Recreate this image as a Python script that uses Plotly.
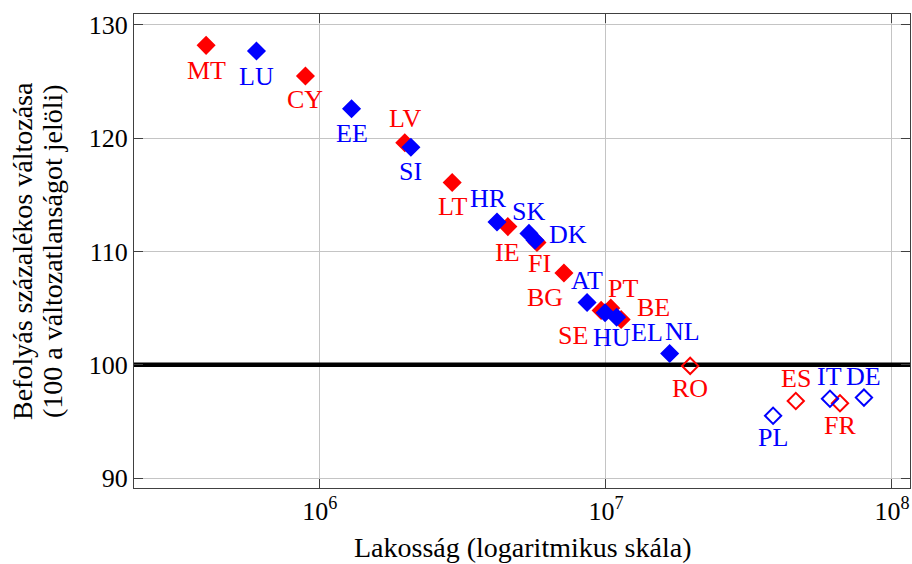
import math
import plotly.graph_objects as go

# ---- data ----
red_codes = ["MT", "CY", "LV", "LT", "IE", "FI", "BG", "SE", "PT", "BE", "RO", "ES", "FR"]
red_pop = [4.0e5, 8.9e5, 1.98e6, 2.90e6, 4.54e6, 5.74e6, 7.13e6, 9.62e6, 1.04e7, 1.13e7, 1.97e7, 4.61e7, 6.58e7]
red_val = [128.2, 125.5, 119.6, 116.1, 112.2, 110.8, 108.1, 104.8, 105.0, 104.0, 99.9, 96.8, 96.6]

blue_codes = ["LU", "EE", "SI", "HR", "SK", "DK", "AT", "HU", "EL", "NL", "PL", "IT", "DE"]
blue_pop = [6.0e5, 1.29e6, 2.08e6, 4.16e6, 5.38e6, 5.65e6, 8.59e6, 9.93e6, 1.09e7, 1.67e7, 3.84e7, 6.07e7, 7.98e7]
blue_val = [127.7, 122.6, 119.2, 112.6, 111.6, 111.0, 105.5, 104.6, 104.2, 101.0, 95.5, 97.0, 97.1]

reference_value = 100
x_tickvals = [1e6, 1e7, 1e8]
x_ticktext = ["10<sup>6</sup>", "10<sup>7</sup>", "10<sup>8</sup>"]
y_tickvals = [90, 100, 110, 120, 130]

x_title = "Lakosság (logaritmikus skála)"
y_title_lines = ["Befolyás százalékos változása", "(100 a változatlanságot jelöli)"]

# ---- styles ----
FONT = "Liberation Serif"
FS = 26
FS_TITLE = 28
RED = "#ff0000"
BLUE = "#0000ff"
X_RANGE_LOG = [5.350, 8.063]
Y_RANGE = [89.12, 130.97]

# label offsets in pixels (xshift, yshift), relative to each marker
label_offsets = {
    "MT": (0, -25), "LU": (0, -25), "CY": (0, -24), "EE": (0, -25),
    "LV": (0, 24), "SI": (0, -24), "LT": (0, -24), "HR": (-9, 24),
    "IE": (0, -26), "SK": (0, 22), "DK": (33, 6), "FI": (3, -21),
    "BG": (-19, -24), "AT": (0, 22), "SE": (-28, -25), "HU": (7, -25),
    "PT": (12, 20), "EL": (30, -15), "BE": (32, 12), "NL": (13, 22),
    "RO": (0, -23), "PL": (0, -22), "ES": (0, 23), "IT": (0, 22),
    "FR": (0, -22), "DE": (0, 21),
}

fig = go.Figure()

# thick reference line across the whole plot, drawn beneath the markers
fig.add_trace(go.Scatter(
    x=[10 ** X_RANGE_LOG[0], 10 ** X_RANGE_LOG[1]],
    y=[reference_value, reference_value],
    mode="lines", line=dict(color="black", width=4.5),
    hoverinfo="skip", showlegend=False, cliponaxis=False,
))


def add_series(codes, pop, val, color):
    symbols = ["diamond" if v >= reference_value else "diamond-open" for v in val]
    fig.add_trace(go.Scatter(
        x=pop, y=val, mode="markers",
        marker=dict(symbol=symbols, size=12.5, color=color,
                    line=dict(color=color, width=2)),
        hoverinfo="text", text=codes, showlegend=False,
    ))
    for c, p, v in zip(codes, pop, val):
        dx, dy = label_offsets[c]
        fig.add_annotation(
            x=math.log10(p), y=v, xref="x", yref="y", text=c,
            showarrow=False, xanchor="center", yanchor="middle",
            xshift=dx, yshift=dy,
            font=dict(family=FONT, size=FS, color=color),
        )


add_series(red_codes, red_pop, red_val, RED)
add_series(blue_codes, blue_pop, blue_val, BLUE)

axis_common = dict(
    showgrid=True, gridcolor="#c4c4c4", gridwidth=1,
    showline=True, linecolor="#404040", linewidth=1, mirror="ticks",
    ticks="inside", ticklen=9, tickcolor="#404040", tickwidth=1,
    zeroline=False, automargin=False,
    tickfont=dict(family=FONT, size=FS, color="black"),
)

fig.update_xaxes(
    type="log", range=X_RANGE_LOG,
    tickvals=x_tickvals, ticktext=x_ticktext,
    **axis_common,
)
fig.update_yaxes(
    range=Y_RANGE, tickvals=y_tickvals,
    **axis_common,
)

# axis titles
fig.add_annotation(
    text=x_title, xref="paper", yref="paper", x=0.5, y=0,
    xanchor="center", yanchor="middle", yshift=-59, showarrow=False,
    font=dict(family=FONT, size=FS_TITLE, color="black"),
)
for line_text, shift in zip(y_title_lines, [-112, -82]):
    fig.add_annotation(
        text=line_text, xref="paper", yref="paper", x=0, y=0.5,
        xanchor="center", yanchor="middle", xshift=shift, textangle=-90,
        showarrow=False, font=dict(family=FONT, size=FS_TITLE, color="black"),
    )

fig.update_layout(
    width=912, height=564,
    margin=dict(l=134, r=2, t=14, b=76),
    plot_bgcolor="white", paper_bgcolor="white",
    font=dict(family=FONT, size=FS, color="black"),
)

# remove the default page margin so the figure fills the window exactly
fig.write_html(
    "out.html",
    config={"displayModeBar": False},
    post_script="document.body.style.margin='0';document.body.style.overflow='hidden';",
)
